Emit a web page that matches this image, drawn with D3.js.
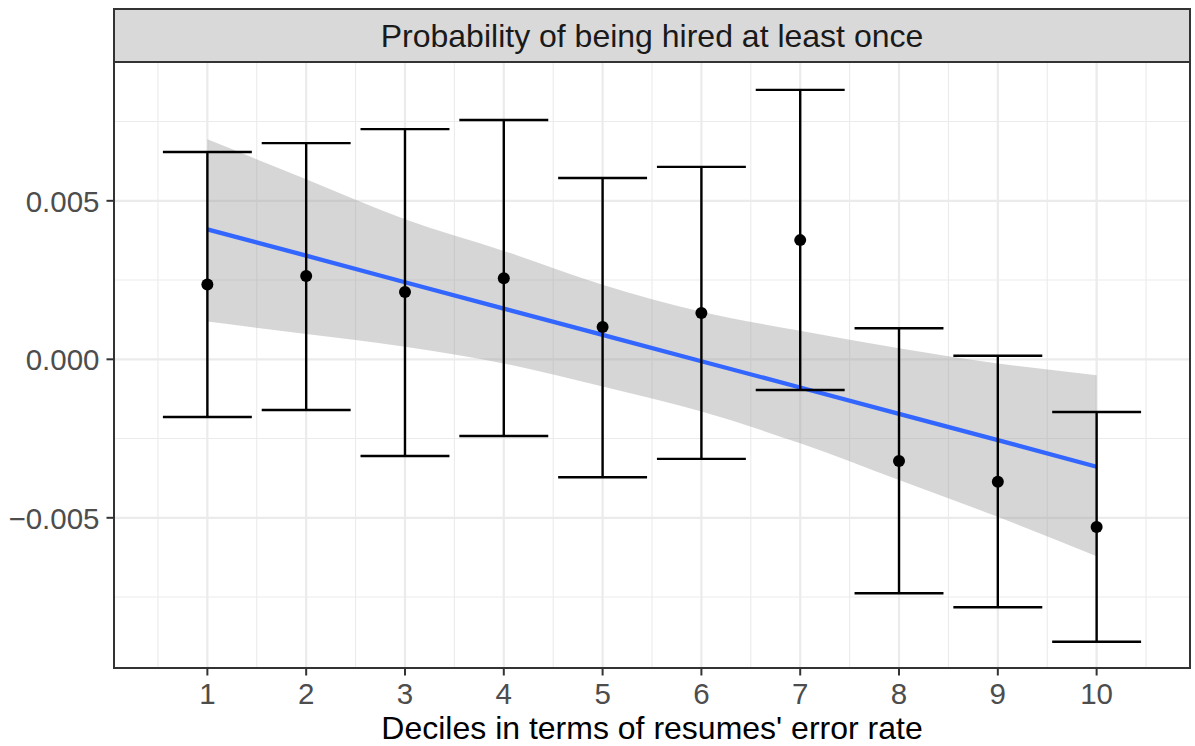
<!DOCTYPE html>
<html>
<head>
<meta charset="utf-8">
<script src="https://cdn.jsdelivr.net/npm/d3@7"></script>
<style>
  body { margin: 0; background: #ffffff; }
  svg { display: block; font-family: "Liberation Sans", Arial, Helvetica, sans-serif; }
</style>
</head>
<body>
<svg id="chart" width="1195" height="746"></svg>
<script>
// ---- data ----
const deciles   = [1, 2, 3, 4, 5, 6, 7, 8, 9, 10];
const estimates = [0.00236, 0.00263, 0.00212, 0.00256, 0.00102, 0.00146, 0.00376, -0.00321, -0.00386, -0.00529];
const ciUpper   = [0.00654, 0.00682, 0.00726, 0.00755, 0.00572, 0.00607, 0.00850, 0.00098, 0.00011, -0.00166];
const ciLower   = [-0.00182, -0.00160, -0.00305, -0.00242, -0.00372, -0.00314, -0.00097, -0.00738, -0.00782, -0.00891];
const fitValues = [0.00410, 0.00327, 0.00243, 0.00160, 0.00077, -0.00006, -0.00089, -0.00172, -0.00255, -0.00339];
const bandUpper = [0.00694, 0.00568, 0.00442, 0.00342, 0.00235, 0.00150, 0.00090, 0.00035, -0.00013, -0.00050];
const bandLower = [0.00119, 0.00080, 0.00040, -0.00013, -0.00086, -0.00165, -0.00265, -0.00381, -0.00497, -0.00621];
const yTicks      = [-0.005, 0.000, 0.005];
const yTickLabels = ["\u22120.005", "0.000", "0.005"];
const yMinor      = [-0.0075, -0.0025, 0.0025, 0.0075];
const xMinor      = [0.5, 1.5, 2.5, 3.5, 4.5, 5.5, 6.5, 7.5, 8.5, 9.5, 10.5];
const stripTitle  = "Probability of being hired at least once";
const xTitle      = "Deciles in terms of resumes' error rate";

// ---- layout ----
const panel = { left: 114, right: 1190, top: 62, bottom: 668 };
const strip = { top: 9, bottom: 62 };

const x = d3.scaleLinear().domain([0.055, 10.945]).range([panel.left, panel.right]);
const y = d3.scaleLinear().domain([-0.009738, 0.009379]).range([panel.bottom, panel.top]);

const svg = d3.select("#chart");

// panel background
svg.append("rect")
  .attr("x", panel.left).attr("y", panel.top)
  .attr("width", panel.right - panel.left).attr("height", panel.bottom - panel.top)
  .attr("fill", "#ffffff");

const grid = svg.append("g");
// minor gridlines
grid.selectAll("line.ymin").data(yMinor).enter().append("line")
  .attr("x1", panel.left).attr("x2", panel.right)
  .attr("y1", d => y(d)).attr("y2", d => y(d))
  .attr("stroke", "#EBEBEB").attr("stroke-width", 1.1);
grid.selectAll("line.xmin").data(xMinor).enter().append("line")
  .attr("y1", panel.top).attr("y2", panel.bottom)
  .attr("x1", d => x(d)).attr("x2", d => x(d))
  .attr("stroke", "#EBEBEB").attr("stroke-width", 1.1);
// major gridlines
grid.selectAll("line.ymaj").data(yTicks).enter().append("line")
  .attr("x1", panel.left).attr("x2", panel.right)
  .attr("y1", d => y(d)).attr("y2", d => y(d))
  .attr("stroke", "#EBEBEB").attr("stroke-width", 2.2);
grid.selectAll("line.xmaj").data(deciles).enter().append("line")
  .attr("y1", panel.top).attr("y2", panel.bottom)
  .attr("x1", d => x(d)).attr("x2", d => x(d))
  .attr("stroke", "#EBEBEB").attr("stroke-width", 2.2);

// confidence band of the linear fit
const bandData = deciles.map((d, i) => ({ x: d, lo: bandLower[i], hi: bandUpper[i] }));
svg.append("path")
  .datum(bandData)
  .attr("d", d3.area().curve(d3.curveMonotoneX)
    .x(d => x(d.x)).y0(d => y(d.lo)).y1(d => y(d.hi)))
  .attr("fill", "#999999").attr("fill-opacity", 0.4);

// fitted line
const fitData = deciles.map((d, i) => ({ x: d, v: fitValues[i] }));
svg.append("path")
  .datum(fitData)
  .attr("d", d3.line().x(d => x(d.x)).y(d => y(d.v)))
  .attr("fill", "none").attr("stroke", "#3366FF").attr("stroke-width", 4.3);

// error bars
const capHalf = 0.45;
const eb = svg.append("g").attr("stroke", "#000000").attr("stroke-width", 2.4);
deciles.forEach((d, i) => {
  eb.append("line").attr("x1", x(d)).attr("x2", x(d)).attr("y1", y(ciLower[i])).attr("y2", y(ciUpper[i]));
  eb.append("line").attr("x1", x(d - capHalf)).attr("x2", x(d + capHalf)).attr("y1", y(ciUpper[i])).attr("y2", y(ciUpper[i]));
  eb.append("line").attr("x1", x(d - capHalf)).attr("x2", x(d + capHalf)).attr("y1", y(ciLower[i])).attr("y2", y(ciLower[i]));
});

// points
svg.selectAll("circle.pt").data(deciles).enter().append("circle")
  .attr("cx", d => x(d)).attr("cy", (d, i) => y(estimates[i]))
  .attr("r", 6).attr("fill", "#000000");

// panel border
svg.append("rect")
  .attr("x", panel.left).attr("y", panel.top)
  .attr("width", panel.right - panel.left).attr("height", panel.bottom - panel.top)
  .attr("fill", "none").attr("stroke", "#333333").attr("stroke-width", 2);

// strip
svg.append("rect")
  .attr("x", panel.left).attr("y", strip.top)
  .attr("width", panel.right - panel.left).attr("height", strip.bottom - strip.top)
  .attr("fill", "#D9D9D9").attr("stroke", "#333333").attr("stroke-width", 2);
svg.append("text")
  .attr("x", (panel.left + panel.right) / 2).attr("y", 46.5)
  .attr("text-anchor", "middle")
  .attr("font-size", 32).attr("fill", "#1A1A1A")
  .text(stripTitle);

// y axis
const yAxis = svg.append("g");
yTicks.forEach((t, i) => {
  yAxis.append("line").attr("x1", panel.left - 7.5).attr("x2", panel.left)
    .attr("y1", y(t)).attr("y2", y(t)).attr("stroke", "#333333").attr("stroke-width", 2);
  yAxis.append("text").attr("x", 99.5).attr("y", y(t) + 11)
    .attr("text-anchor", "end")
    .attr("font-size", 29.5).attr("fill", "#4D4D4D").text(yTickLabels[i]);
});

// x axis
const xAxis = svg.append("g");
deciles.forEach(d => {
  xAxis.append("line").attr("x1", x(d)).attr("x2", x(d))
    .attr("y1", panel.bottom).attr("y2", panel.bottom + 7.5).attr("stroke", "#333333").attr("stroke-width", 2);
  xAxis.append("text").attr("x", x(d)).attr("y", 703.5)
    .attr("text-anchor", "middle")
    .attr("font-size", 29.5).attr("fill", "#4D4D4D").text(d);
});

svg.append("text")
  .attr("x", (panel.left + panel.right) / 2).attr("y", 738.5)
  .attr("text-anchor", "middle")
  .attr("font-size", 32).attr("fill", "#000000")
  .text(xTitle);
</script>
</body>
</html>
